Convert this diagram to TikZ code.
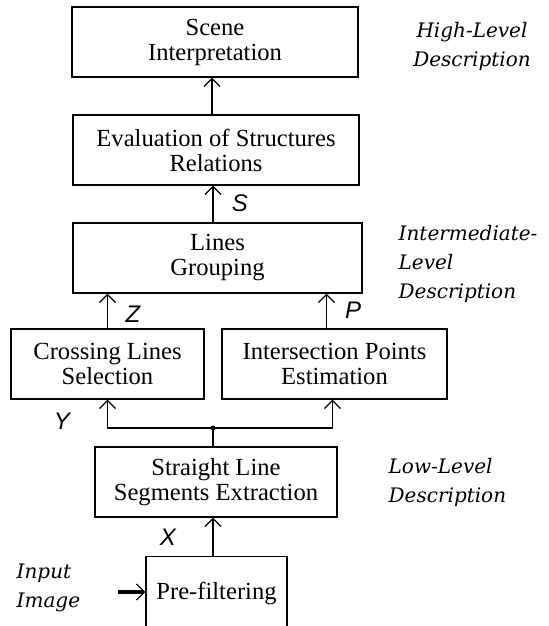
\documentclass[tikz,border=0pt]{standalone}
\usepackage{fontspec}
\setmainfont{Liberation Serif}
\newfontfamily\lvlfont{DejaVu Serif}[ItalicFont={DejaVu Serif Italic}]
\newfontfamily\lblfont{Liberation Sans}
\usepackage{tikz}
\usetikzlibrary{arrows.meta,positioning}

\begin{document}
\begin{tikzpicture}[x=0.5pt,y=-0.5pt,line width=0.7pt]
\tikzset{stage/.style={draw,line width=0.7pt,minimum height=35pt,inner sep=1pt,align=center,font=\fontsize{12.3}{12.5}\selectfont},
  lvl/.style={font=\lvlfont\itshape\fontsize{10}{14.5}\selectfont,inner sep=0pt},
  sym/.style={font=\lblfont\itshape\fontsize{12}{12}\selectfont,inner sep=0pt},
  arr/.style={-{Straight Barb[length=4pt,width=8pt,line width=0.6pt]}}}
\useasboundingbox (0,0) rectangle (548,626);
\clip (0,0) rectangle (548,626);
% high level
\node[stage,minimum width=143pt] (scene) at (215,42){Scene\\Interpretation};
\node[stage,minimum width=143pt] (evalrel) at (216,150){Evaluation of Structures\\Relations};
\node[lvl,align=center] (highlvl) at (472,46){High-Level\\Description};
% intermediate level
\node[stage,minimum width=144.5pt] (group) at (217.5,258){Lines\\Grouping};
\node[stage,minimum width=96.5pt] (crossing) at (107.5,364){Crossing Lines\\Selection};
\node[stage,minimum width=112.5pt] (isect) at (334.5,364){Intersection Points\\Estimation};
\node[lvl,align=left,anchor=west] (midlvl) at (398,264){Intermediate-\\Level\\Description};
% low level
\node[stage,minimum width=121pt] (segext) at (216,482){Straight Line\\Segments Extraction};
\node[stage,minimum width=70.5pt,minimum height=37pt,anchor=north] (prefilt) at (216.5,556){Pre-filtering};
\node[lvl,align=left,anchor=west] (lowlvl) at (388,482){Low-Level\\Description};
\node[lvl,align=left,anchor=west] (inimg) at (16,588){Input\\Image};
% connectors
\coordinate (split) at (213,428);
\coordinate (inp) at (118,592);
\draw[arr] (evalrel.north -| 212,0) -- (scene.south -| 212,0);
\draw[arr] (group.north -| split) -- (evalrel.south -| split);
\draw[arr] (crossing.north) -- (crossing.north |- group.south);
\draw[arr] ([xshift=-4pt]isect.north) -- ([xshift=-4pt]isect.north |- group.south);
\draw (segext.north -| split) -- (split);
\draw[arr] (split) -| (crossing.south);
\draw[arr] (split) -| ([xshift=-1pt]isect.south);
\fill (split) circle (1.2pt);
\draw[arr] (prefilt.north -| split) -- (segext.south -| split);
\draw[line width=2pt,-{Straight Barb[length=4pt,width=8pt,line width=0.6pt]}] (inp) -- (inp -| prefilt.west);
% signal labels
\node[sym] (lblS) at (240,203){S};
\node[sym] (lblZ) at (133,314){Z};
\node[sym] (lblP) at (353,310){P};
\node[sym] (lblY) at (62,421){Y};
\node[sym] (lblX) at (168,537){X};
\end{tikzpicture}
\end{document}
